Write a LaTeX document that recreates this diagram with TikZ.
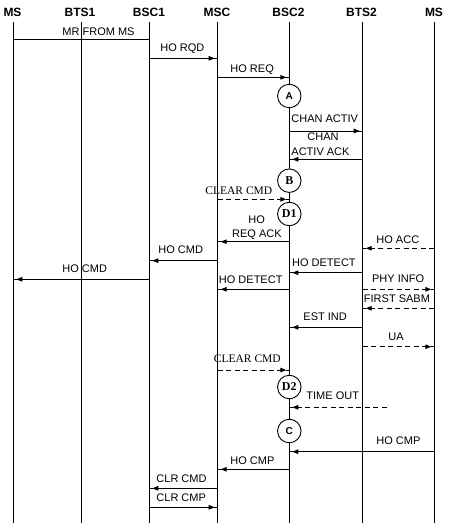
\documentclass[tikz,border=0pt]{standalone}
\usepackage{fontspec}
\setmainfont{Liberation Sans}
\newfontfamily\serifx{Liberation Serif}
\usetikzlibrary{arrows.meta,decorations.markings}
\begin{document}
\begin{tikzpicture}[x=1pt,y=-1pt,line width=0.9pt,
  hdr/.style={inner sep=0pt,font=\fontsize{12}{14}\selectfont\bfseries},
  lbl/.style={inner sep=0pt,font=\fontsize{11}{13}\selectfont},
  slbl/.style={inner sep=0pt,font=\fontsize{11.5}{13}\selectfont\serifx},
  msg/.style={postaction={solid,decorate},decoration={markings,
     mark=at position -3pt with {\arrow{Triangle[length=6pt,width=4.5pt]}}}},
  dsh/.style={dash pattern=on 5pt off 3.5pt},
  circ/.style={circle,draw,fill=white,minimum size=23.5pt,inner sep=0pt,line width=0.9pt},
  circa/.style={circ,font=\fontsize{10}{12}\selectfont\bfseries},
  circb/.style={circ,font=\fontsize{12}{14}\selectfont\serifx\bfseries}]
\useasboundingbox (0,0) rectangle (457,528);
% lifelines
\coordinate (ms) at (13.3,0);
\coordinate (bts1) at (81.7,0);
\coordinate (bsc1) at (149.3,0);
\coordinate (msc) at (217.7,0);
\coordinate (bsc2) at (289.3,0);
\coordinate (bts2) at (362.7,0);
\coordinate (msb) at (434.3,0);
\node[hdr] (h1) at (12.5,12) {MS};
\node[hdr] (h2) at (80,12) {BTS1};
\node[hdr] (h3) at (149,12) {BSC1};
\node[hdr] (h4) at (217,12) {MSC};
\node[hdr] (h5) at (288.5,12) {BSC2};
\node[hdr] (h6) at (361.5,12) {BTS2};
\node[hdr] (h7) at (434,12) {MS};
\foreach \c in {ms,bts1,bsc1,msc,bsc2,bts2,msb}{
  \draw (\c |- 0,22) -- (\c |- 0,523);
}
% messages
\draw (ms |- 0,39.3) -- (bsc1 |- 0,39.3);
\node[lbl,anchor=west] (t1) at (62,31.7) {MR FROM MS};
\draw[msg] (bsc1 |- 0,58.3) -- (msc |- 0,58.3);
\node[lbl,anchor=west] (t2) at (160,49) {HO RQD};
\draw[msg] (msc |- 0,77.3) -- (bsc2 |- 0,77.3);
\node[lbl,anchor=west] (t3) at (230,70) {HO REQ};
\draw[msg] (bsc2 |- 0,131) -- (bts2 |- 0,131);
\node[lbl,anchor=west] (t4) at (291,118.5) {CHAN ACTIV};
\draw[msg] (bts2 |- 0,159.3) -- (bsc2 |- 0,159.3);
\node[lbl] (t5a) at (323,137) {CHAN};
\node[lbl,anchor=west] (t5b) at (291,152) {ACTIV ACK};
\draw[msg,dsh] (msc |- 0,199.3) -- (bsc2 |- 0,199.3);
\node[slbl,anchor=west] (t6) at (205,191) {CLEAR CMD};
\draw[msg] (bsc2 |- 0,241.7) -- (msc |- 0,241.7);
\node[lbl] (t7a) at (256.7,220) {HO};
\node[lbl,anchor=west] (t7b) at (231.7,234.3) {REQ ACK};
\draw[msg,dsh] (msb |- 0,248.3) -- (bts2 |- 0,248.3);
\node[lbl,anchor=west] (t8) at (376,239.3) {HO ACC};
\draw[msg] (msc |- 0,260.7) -- (bsc1 |- 0,260.7);
\node[lbl,anchor=west] (t9) at (158,249.3) {HO CMD};
\draw[msg] (bts2 |- 0,272.7) -- (bsc2 |- 0,272.7);
\node[lbl,anchor=west] (t10) at (291.7,262.7) {HO DETECT};
\draw[msg] (bsc1 |- 0,279.3) -- (ms |- 0,279.3);
\node[lbl,anchor=west] (t11) at (62,268.3) {HO CMD};
\draw[msg] (bsc2 |- 0,289.3) -- (msc |- 0,289.3);
\node[lbl,anchor=west] (t12) at (218.5,279.3) {HO DETECT};
\draw[msg,dsh] (bts2 |- 0,289.3) -- (msb |- 0,289.3);
\node[lbl,anchor=west] (t13) at (371.7,279) {PHY INFO};
\draw[msg,dsh] (msb |- 0,308.3) -- (bts2 |- 0,308.3);
\node[lbl,anchor=west] (t14) at (363.5,298.3) {FIRST SABM};
\draw[msg] (bts2 |- 0,327.3) -- (bsc2 |- 0,327.3);
\node[lbl,anchor=west] (t15) at (303,316.7) {EST IND};
\draw[msg,dsh] (bts2 |- 0,346.7) -- (msb |- 0,346.7);
\node[lbl] (t16) at (396,336.7) {UA};
\draw[msg,dsh] (msc |- 0,370) -- (bsc2 |- 0,370);
\node[slbl,anchor=west] (t17) at (213.5,358.3) {CLEAR CMD};
\coordinate (tof) at (386.7,407.3);
\draw[msg,dsh] (tof) -- (bsc2 |- tof);
\node[lbl,anchor=west] (t18) at (306,395.7) {TIME OUT};
\draw[msg] (msb |- 0,451.7) -- (bsc2 |- 0,451.7);
\node[lbl,anchor=west] (t19) at (376,440.7) {HO CMP};
\draw[msg] (bsc2 |- 0,469.3) -- (msc |- 0,469.3);
\node[lbl,anchor=west] (t20) at (230,461) {HO CMP};
\draw[msg] (msc |- 0,488.3) -- (bsc1 |- 0,488.3);
\node[lbl,anchor=west] (t21) at (156,478.3) {CLR CMD};
\draw[msg] (bsc1 |- 0,507.3) -- (msc |- 0,507.3);
\node[lbl,anchor=west] (t22) at (156,497.3) {CLR CMP};
% state circles
\node[circa] (cA) at (bsc2 |- 0,96) {A};
\node[circb] (cB) at (bsc2 |- 0,180.7) {B};
\node[circb] (cD1) at (bsc2 |- 0,214) {D1};
\node[circb] (cD2) at (bsc2 |- 0,387) {D2};
\node[circa] (cC) at (bsc2 |- 0,431) {C};
\end{tikzpicture}
\end{document}
